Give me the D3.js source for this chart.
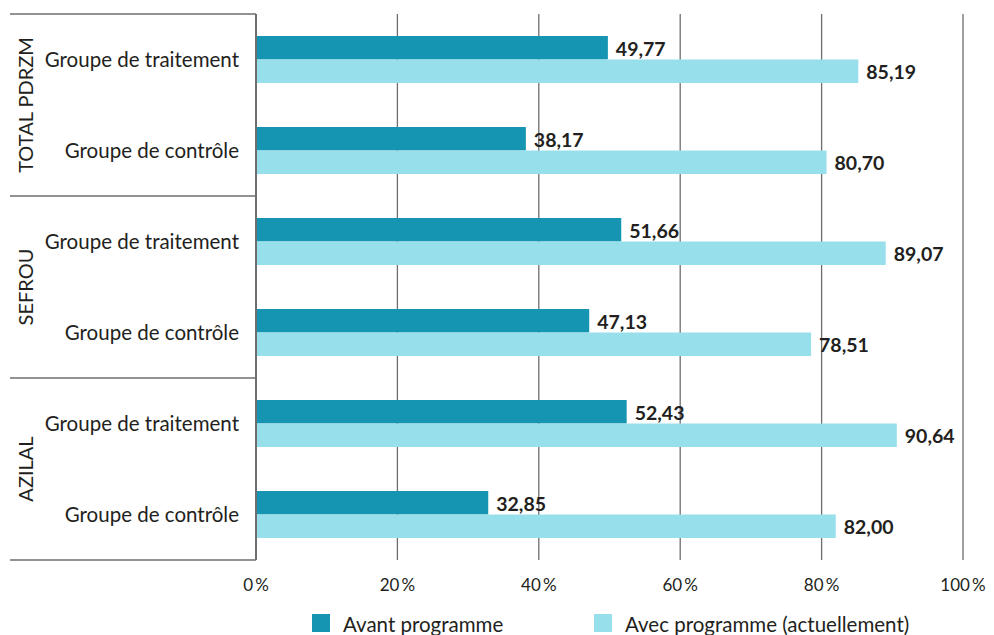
<!DOCTYPE html>
<html>
<head>
<meta charset="utf-8">
<script src="https://cdn.jsdelivr.net/npm/d3@7"></script>
<style>
  html, body { margin: 0; padding: 0; background: #fff; }
  svg { display: block; font-family: Lato, "Open Sans", sans-serif; }
</style>
</head>
<body>
<svg id="chart" width="994" height="635"></svg>
<script>
// Regions and groups, top to bottom
const regions = ["TOTAL PDRZM", "SEFROU", "AZILAL"];
const groups = ["Groupe de traitement", "Groupe de contrôle"];
const seriesNames = ["Avant programme", "Avec programme (actuellement)"];

// Values per region, in group order
const avantProgramme = [
  [49.77, 38.17],
  [51.66, 47.13],
  [52.43, 32.85]
];
const avecProgramme = [
  [85.19, 80.70],
  [89.07, 78.51],
  [90.64, 82.00]
];
const tickValues = [0, 20, 40, 60, 80, 100];

const colors = ["#1695b3", "#98dfec"];
const textColor = "#231f20";
const lineColor = "#6d6e70";

const svg = d3.select("#chart");
const plotLeft = 256, plotRight = 963, plotTop = 14, plotBottom = 560;

const rows = [];
regions.forEach((r, i) => groups.forEach((g, j) => rows.push({
  key: r + "|" + g, region: r, group: g,
  values: [avantProgramme[i][j], avecProgramme[i][j]]
})));

const x = d3.scaleLinear().domain([0, 100]).range([plotLeft, plotRight]);
const y = d3.scaleBand().domain(rows.map(d => d.key)).range([plotTop, plotBottom]).paddingInner(0).paddingOuter(0);
const barH = 23.5;

// Vertical gridlines
svg.append("g").selectAll("line").data(tickValues.slice(1)).join("line")
  .attr("x1", d => x(d)).attr("x2", d => x(d))
  .attr("y1", plotTop).attr("y2", plotBottom)
  .attr("stroke", lineColor).attr("stroke-width", 1.3);

// Bars
const rowG = svg.append("g").selectAll("g").data(rows).join("g")
  .attr("transform", d => `translate(0,${y(d.key) + y.bandwidth() / 2 - barH})`);

rowG.selectAll("rect").data(d => d.values).join("rect")
  .attr("x", x(0))
  .attr("y", (d, i) => i * barH)
  .attr("width", d => x(d) - x(0))
  .attr("height", barH)
  .attr("fill", (d, i) => colors[i]);

rowG.selectAll("text").data(d => d.values).join("text")
  .attr("x", d => x(d) + 8)
  .attr("y", (d, i) => i * barH + barH / 2 + 1)
  .attr("dy", "0.35em")
  .attr("fill", textColor)
  .attr("font-size", 19.5)
  .attr("font-weight", "bold")
  .text(d => d.toFixed(2).replace(".", ","));

// Left frame: region separators and axis line
const sepY = regions.map((r, i) => y(r + "|" + groups[0])).concat([plotBottom]);
svg.append("g").selectAll("line").data(sepY).join("line")
  .attr("x1", 10).attr("x2", plotLeft)
  .attr("y1", d => d).attr("y2", d => d)
  .attr("stroke", lineColor).attr("stroke-width", 1.3);

svg.append("line")
  .attr("x1", plotLeft).attr("x2", plotLeft).attr("y1", plotTop).attr("y2", plotBottom)
  .attr("stroke", lineColor).attr("stroke-width", 2);

// Group labels
svg.append("g").selectAll("text").data(rows).join("text")
  .attr("x", 239)
  .attr("y", d => y(d.key) + y.bandwidth() / 2)
  .attr("dy", "0.35em")
  .attr("text-anchor", "end")
  .attr("fill", textColor)
  .attr("font-size", 20.5)
  .text(d => d.group);

// Region labels (rotated)
svg.append("g").selectAll("text").data(regions).join("text")
  .attr("transform", (d, i) => `translate(26,${(sepY[i] + sepY[i + 1]) / 2}) rotate(-90)`)
  .attr("dy", "0.35em")
  .attr("text-anchor", "middle")
  .attr("fill", textColor)
  .attr("font-size", 20)
  .text(d => d);

// X axis tick labels
svg.append("g").selectAll("text").data(tickValues).join("text")
  .attr("x", d => x(d))
  .attr("y", 585)
  .attr("dy", "0.35em")
  .attr("text-anchor", "middle")
  .attr("fill", textColor)
  .attr("font-size", 17)
  .text(d => d + "\u2009%");

// Legend
const legendX = [312, 594];
const leg = svg.append("g").selectAll("g").data(seriesNames).join("g")
  .attr("transform", (d, i) => `translate(${legendX[i]},614)`);
leg.append("rect").attr("width", 18).attr("height", 18).attr("fill", (d, i) => colors[i]);
leg.append("text").attr("x", 31).attr("y", 11).attr("dy", "0.35em")
  .attr("fill", textColor).attr("font-size", 20.5).text(d => d);
</script>
</body>
</html>
